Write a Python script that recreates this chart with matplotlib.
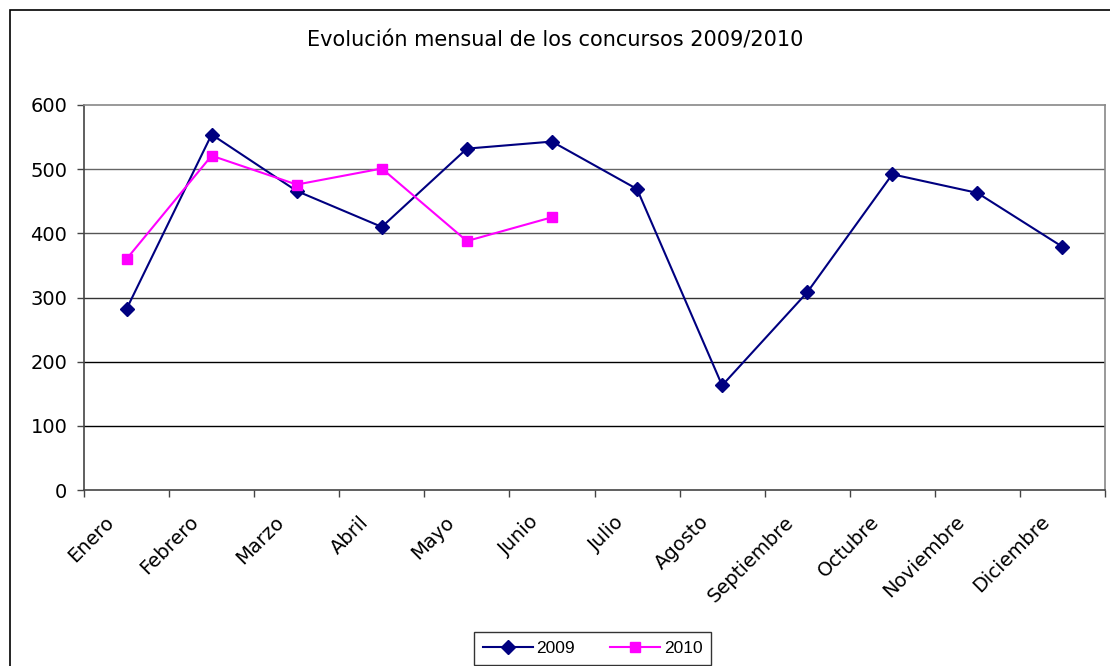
import matplotlib
matplotlib.use("Agg")
import matplotlib.pyplot as plt
from matplotlib.patches import Rectangle
from matplotlib.ticker import FixedLocator, NullFormatter
from matplotlib.transforms import ScaledTranslation

months = ["Enero", "Febrero", "Marzo", "Abril", "Mayo", "Junio", "Julio",
          "Agosto", "Septiembre", "Octubre", "Noviembre", "Diciembre"]
values_2009 = [282, 554, 466, 410, 532, 543, 469, 163, 308, 492, 463, 379]
values_2010 = [360, 521, 476, 501, 388, 425]
yticks = [0, 100, 200, 300, 400, 500, 600]
title = "Evolución mensual de los concursos 2009/2010"

W, H = 1110, 666
fig = plt.figure(figsize=(W / 100, H / 100), dpi=100)
fig.patch.set_facecolor("white")

# outer chart border (cut off at right and bottom)
fig.add_artist(Rectangle((9.5 / W, -0.1), 1.2, 1 - 10.5 / H + 0.1,
                         transform=fig.transFigure, fill=False,
                         edgecolor="black", linewidth=1.2))

ax = fig.add_axes([84 / W, 1 - 490 / H, (1105 - 84) / W, (490 - 105) / H])
x = list(range(len(months)))

ax.set_ylim(0, 600)
ax.set_xlim(-0.5, len(months) - 0.5)
ax.set_yticks(yticks)
ax.set_yticklabels([str(v) for v in yticks], fontsize=14, family="DejaVu Sans")
grid_colors = {100: "black", 200: "black", 300: "#333333", 400: "#555555", 500: "#666666"}
for v in yticks[1:-1]:
    ax.axhline(v, color=grid_colors[v], linewidth=1, zorder=1)

ax.xaxis.set_major_locator(FixedLocator([i - 0.5 for i in range(len(months) + 1)]))
ax.xaxis.set_major_formatter(NullFormatter())
ax.tick_params(axis="x", which="major", length=5, width=1, color="#444444", direction="out")
ax.tick_params(axis="y", length=5, width=1, color="#444444", direction="out", pad=7)

# rotated category labels, right end slightly left of the category centre
off = ScaledTranslation(-16 / 100, -29 / 100, fig.dpi_scale_trans)
for i, m in enumerate(months):
    ax.text(i, 0, m, transform=ax.get_xaxis_transform() + off, rotation=45,
            ha="right", va="center", rotation_mode="anchor", fontsize=14,
            family="DejaVu Sans", clip_on=False)

for side in ["top", "right"]:
    ax.spines[side].set_color("#888888")
    ax.spines[side].set_linewidth(1.2)
for side in ["left", "bottom"]:
    ax.spines[side].set_color("#444444")
    ax.spines[side].set_linewidth(1.2)

l1, = ax.plot(x, values_2009, color="#000080", linewidth=1.5, marker="D",
              markersize=7, markerfacecolor="#000080", markeredgecolor="#000080",
              label="2009", zorder=3)
l2, = ax.plot(x[:len(values_2010)], values_2010, color="#FF00FF", linewidth=1.5,
              marker="s", markersize=7.5, markerfacecolor="#FF00FF",
              markeredgecolor="#FF00FF", label="2010", zorder=4)

fig.text(0.5, 1 - 41 / H, title, ha="center", va="center", fontsize=15,
         family="DejaVu Sans")

leg = fig.legend(handles=[l1, l2], loc="upper center",
                 bbox_to_anchor=(592.5 / W, 1 - 632 / H), ncol=2,
                 frameon=True, fancybox=False, edgecolor="black",
                 prop={"family": "Liberation Sans", "size": 12.5},
                 handlelength=2.9, columnspacing=2.0, borderpad=0.5,
                 handletextpad=0.2, borderaxespad=0)
leg.get_frame().set_linewidth(1.0)

fig.savefig("out.png", dpi=100, facecolor="white")
